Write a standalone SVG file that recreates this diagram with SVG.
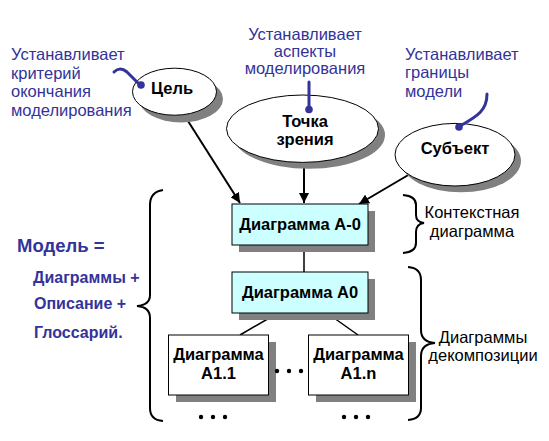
<svg xmlns="http://www.w3.org/2000/svg" width="549" height="441" viewBox="0 0 549 441">
<defs>
<style>
.lbl{font-family:"Liberation Sans",Arial,sans-serif;font-size:16.5px;fill:#333399}
.blk{font-family:"Liberation Sans",Arial,sans-serif;font-size:16.5px;fill:#000}
.nt{font-family:"Liberation Sans",Arial,sans-serif;font-size:16.5px;font-weight:bold;fill:#000;text-anchor:middle}
.mdl{font-family:"Liberation Sans",Arial,sans-serif;font-weight:bold;fill:#333399}
.sh{fill:#808080}
.el{fill:#fff;stroke:#000;stroke-width:1}
.bx{fill:#ccffff;stroke:#000;stroke-width:1}
.wb{fill:#fff;stroke:#000;stroke-width:1}
.ar{stroke:#000;stroke-width:2;fill:none}
.ln{stroke:#000;stroke-width:1.5;fill:none}
.br{stroke:#000;stroke-width:2;fill:none}
.ptr{stroke:#333399;stroke-width:3;fill:none;stroke-linecap:round}
</style>
<marker id="ah" viewBox="0 0 10 10" refX="10" refY="5" markerWidth="5" markerHeight="5" orient="auto" markerUnits="strokeWidth">
<path d="M0,0 L10,5 L0,10 z" fill="#000"/>
</marker>
</defs>
<rect width="549" height="441" fill="#fff"/>

<g id="connectors">
<line class="ar" x1="181" y1="110" x2="240" y2="203" marker-end="url(#ah)"/>
<line class="ar" x1="304" y1="160" x2="304" y2="203" marker-end="url(#ah)"/>
<line class="ar" x1="410" y1="174" x2="359" y2="204" marker-end="url(#ah)"/>
<line class="ln" x1="304" y1="245" x2="304" y2="272"/>
<line class="ln" x1="278" y1="313" x2="240" y2="335"/>
<line class="ln" x1="327" y1="313" x2="358" y2="335"/>
</g>

<g id="goal">
<ellipse class="sh" cx="181" cy="99" rx="42" ry="23.5"/>
<ellipse class="el" cx="174.5" cy="91.7" rx="42" ry="23.5"/>
<text class="nt" x="172" y="94">Цель</text>
</g>
<g id="viewpoint">
<ellipse class="sh" cx="309" cy="135" rx="76" ry="33.7"/>
<ellipse class="el" cx="302.5" cy="128.7" rx="76" ry="33.7"/>
<text class="nt" x="305" y="127">Точка</text>
<text class="nt" x="305" y="145">зрения</text>
</g>
<g id="subject">
<ellipse class="sh" cx="461" cy="161" rx="60" ry="31.3"/>
<ellipse class="el" cx="455" cy="154.7" rx="60" ry="31.3"/>
<text class="nt" x="455" y="154">Субъект</text>
</g>

<g id="pointers">
<path class="ptr" d="M114,72 Q120,66 127,72 L140,85"/>
<circle cx="141" cy="85" r="3.8" fill="#333399"/>
<line class="ptr" x1="309" y1="82" x2="309" y2="108"/>
<circle cx="309" cy="109.5" r="3.8" fill="#333399"/>
<path class="ptr" d="M487,94 C487,110 478,116 460,126"/>
<circle cx="459" cy="127" r="3.8" fill="#333399"/>
</g>

<g id="label-goal">
<text class="lbl" x="11" y="60">Устанавливает</text>
<text class="lbl" x="11" y="78.5">критерий</text>
<text class="lbl" x="11" y="97">окончания</text>
<text class="lbl" x="11" y="115.5">моделирования</text>
</g>
<g id="label-view">
<text class="lbl" x="305" y="39.5" text-anchor="middle">Устанавливает</text>
<text class="lbl" x="305" y="56.5" text-anchor="middle">аспекты</text>
<text class="lbl" x="305" y="73.5" text-anchor="middle">моделирования</text>
</g>
<g id="label-subject">
<text class="lbl" x="405" y="60">Устанавливает</text>
<text class="lbl" x="405" y="78.3">границы</text>
<text class="lbl" x="405" y="96.7">модели</text>
</g>

<g id="diagA-0">
<rect class="sh" x="239" y="211" width="136" height="41"/>
<rect class="bx" x="232" y="204" width="136" height="41"/>
<text class="nt" x="300" y="230">Диаграмма А-0</text>
</g>
<g id="diagA0">
<rect class="sh" x="239" y="279" width="136" height="41"/>
<rect class="bx" x="232" y="272" width="136" height="41"/>
<text class="nt" x="300" y="298">Диаграмма А0</text>
</g>
<g id="diagA1-1">
<rect class="sh" x="176" y="342" width="100" height="60"/>
<rect class="wb" x="168.5" y="335" width="100" height="60"/>
<text class="nt" x="218.5" y="360">Диаграмма</text>
<text class="nt" x="218.5" y="379">А1.1</text>
</g>
<g id="diagA1-n">
<rect class="sh" x="316" y="342" width="100" height="60"/>
<rect class="wb" x="308.5" y="335" width="100" height="60"/>
<text class="nt" x="358.5" y="360">Диаграмма</text>
<text class="nt" x="358.5" y="379">А1.n</text>
</g>

<g id="dots" fill="#000">
<circle cx="277" cy="371" r="2.2"/><circle cx="289" cy="371" r="2.2"/><circle cx="301" cy="371" r="2.2"/>
<circle cx="201" cy="417" r="2.2"/><circle cx="213" cy="417" r="2.2"/><circle cx="225" cy="417" r="2.2"/>
<circle cx="344" cy="417" r="2.2"/><circle cx="356" cy="417" r="2.2"/><circle cx="368" cy="417" r="2.2"/>
</g>

<g id="braces">
<path class="br" d="M163,190 Q150,192 150,205 L150,295 Q150,305 137,306 Q150,307 150,318 L150,408 Q150,420 163,421"/>
<path class="br" d="M403,195 Q416,196 416,205 L416,215 Q416,222 424,223 Q416,224 416,232 L416,243 Q416,252 403,253"/>
<path class="br" d="M408,267 Q421,268 421,280 L421,330 Q421,342 435,343 Q421,344 421,356 L421,408 Q421,419 408,420"/>
</g>

<g id="brace-labels">
<text class="blk" x="472" y="218" text-anchor="middle">Контекстная</text>
<text class="blk" x="472" y="237" text-anchor="middle">диаграмма</text>
<text class="blk" x="483" y="343" text-anchor="middle">Диаграммы</text>
<text class="blk" x="483" y="361" text-anchor="middle">декомпозиции</text>
</g>

<g id="model">
<text class="mdl" x="17" y="252" font-size="18.5">Модель =</text>
<text class="mdl" x="33" y="283" font-size="16">Диаграммы +</text>
<text class="mdl" x="34" y="309" font-size="16">Описание +</text>
<text class="mdl" x="34" y="338" font-size="16">Глоссарий.</text>
</g>
</svg>
